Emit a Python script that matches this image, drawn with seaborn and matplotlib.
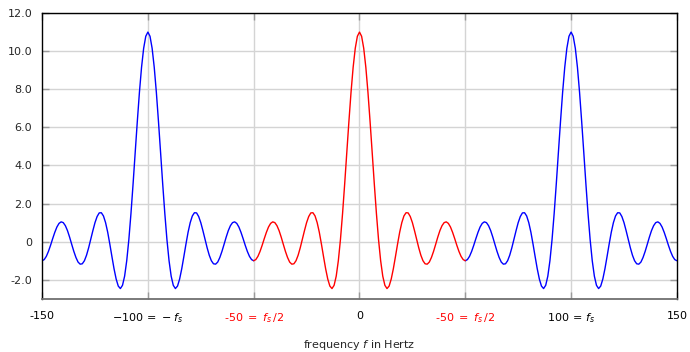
import numpy as np
import pandas as pd
import matplotlib
matplotlib.use("Agg")
import matplotlib.pyplot as plt
import seaborn as sns

# frequency grid (Hz) and amplitude values, 1 Hz apart
freq = list(range(-150, 151))
amplitude = [
    # -150 .. -100
    -1.0, -0.94, -0.77, -0.51, -0.19, 0.16, 0.49, 0.77, 0.96, 1.04, 1.0, 0.84, 0.58, 0.24, -0.14, -0.51, -0.83,
    -1.07, -1.18, -1.16, -1.0, -0.71, -0.32, 0.13, 0.58, 1.0, 1.32, 1.51, 1.52, 1.35, 1.0, 0.5, -0.12, -0.78,
    -1.42, -1.96, -2.33, -2.46, -2.29, -1.81, -1.0, 0.11, 1.48, 3.03, 4.68, 6.31, 7.84, 9.15, 10.15, 10.78, 11.0,
    # -99 .. -51
    10.78, 10.15, 9.15, 7.84, 6.31, 4.68, 3.03, 1.48, 0.11, -1.0, -1.81, -2.29, -2.46, -2.33, -1.96, -1.42, -0.78,
    -0.12, 0.5, 1.0, 1.35, 1.52, 1.51, 1.32, 1.0, 0.58, 0.13, -0.32, -0.71, -1.0, -1.16, -1.18, -1.07, -0.83,
    -0.51, -0.14, 0.24, 0.58, 0.84, 1.0, 1.04, 0.96, 0.77, 0.49, 0.16, -0.19, -0.51, -0.77, -0.94,
    # -50 .. 0
    -1.0, -0.94, -0.77, -0.51, -0.19, 0.16, 0.49, 0.77, 0.96, 1.04, 1.0, 0.84, 0.58, 0.24, -0.14, -0.51, -0.83,
    -1.07, -1.18, -1.16, -1.0, -0.71, -0.32, 0.13, 0.58, 1.0, 1.32, 1.51, 1.52, 1.35, 1.0, 0.5, -0.12, -0.78,
    -1.42, -1.96, -2.33, -2.46, -2.29, -1.81, -1.0, 0.11, 1.48, 3.03, 4.68, 6.31, 7.84, 9.15, 10.15, 10.78, 11.0,
    # 1 .. 50
    10.78, 10.15, 9.15, 7.84, 6.31, 4.68, 3.03, 1.48, 0.11, -1.0, -1.81, -2.29, -2.46, -2.33, -1.96, -1.42, -0.78,
    -0.12, 0.5, 1.0, 1.35, 1.52, 1.51, 1.32, 1.0, 0.58, 0.13, -0.32, -0.71, -1.0, -1.16, -1.18, -1.07, -0.83,
    -0.51, -0.14, 0.24, 0.58, 0.84, 1.0, 1.04, 0.96, 0.77, 0.49, 0.16, -0.19, -0.51, -0.77, -0.94, -1.0,
    # 51 .. 99
    -0.94, -0.77, -0.51, -0.19, 0.16, 0.49, 0.77, 0.96, 1.04, 1.0, 0.84, 0.58, 0.24, -0.14, -0.51, -0.83, -1.07,
    -1.18, -1.16, -1.0, -0.71, -0.32, 0.13, 0.58, 1.0, 1.32, 1.51, 1.52, 1.35, 1.0, 0.5, -0.12, -0.78, -1.42,
    -1.96, -2.33, -2.46, -2.29, -1.81, -1.0, 0.11, 1.48, 3.03, 4.68, 6.31, 7.84, 9.15, 10.15, 10.78,
    # 100 .. 150
    11.0, 10.78, 10.15, 9.15, 7.84, 6.31, 4.68, 3.03, 1.48, 0.11, -1.0, -1.81, -2.29, -2.46, -2.33, -1.96, -1.42,
    -0.78, -0.12, 0.5, 1.0, 1.35, 1.52, 1.51, 1.32, 1.0, 0.58, 0.13, -0.32, -0.71, -1.0, -1.16, -1.18, -1.07,
    -0.83, -0.51, -0.14, 0.24, 0.58, 0.84, 1.0, 1.04, 0.96, 0.77, 0.49, 0.16, -0.19, -0.51, -0.77, -0.94, -1.0,
]

x_ticks = [-150, -100, -50, 0, 50, 100, 150]
x_tick_labels = ["-150", r"$-100\,=\,-f_s$", r"-50 $=$ $f_s\,/2$", "0",
                 r"-50 $=$ $f_s\,/2$", r"$100\,=\,f_s$", "150"]
x_tick_colors = ["black", "black", "red", "black", "red", "black", "black"]
y_ticks = [-2, 0, 2, 4, 6, 8, 10, 12]
y_tick_labels = ["-2.0", "0", "2.0", "4.0", "6.0", "8.0", "10.0", "12.0"]

df = pd.DataFrame({"freq": freq, "amp": amplitude})
left = df[df.freq <= -50]
mid = df[(df.freq >= -50) & (df.freq <= 50)]
right = df[df.freq >= 50]

sns.set_theme(style="white")
plt.rcParams["font.family"] = ["DejaVu Sans"]
plt.rcParams["mathtext.fontset"] = "dejavusans"

fig, ax = plt.subplots(figsize=(6.9, 3.52), dpi=100)
fig.subplots_adjust(left=0.061, right=0.981, top=0.963, bottom=0.151)

# grid
for yv in y_ticks:
    ax.axhline(yv, color="#d4d4d4", lw=1.0, zorder=0)
for xv in [-100, -50, 0, 50, 100]:
    ax.axvline(xv, color="#d4d4d4", lw=1.0, zorder=0)

sns.lineplot(data=left, x="freq", y="amp", color="#0000ff", lw=1.0, ax=ax)
sns.lineplot(data=right, x="freq", y="amp", color="#0000ff", lw=1.0, ax=ax)
sns.lineplot(data=mid, x="freq", y="amp", color="#ff0000", lw=1.0, ax=ax)

ax.set_xlim(-150, 150)
ax.set_ylim(-3, 12)
ax.set_xticks(x_ticks)
ax.set_xticklabels(x_tick_labels, fontsize=8)
for lab, c in zip(ax.get_xticklabels(), x_tick_colors):
    lab.set_color(c)
ax.set_yticks(y_ticks)
ax.set_yticklabels(y_tick_labels, fontsize=8)
ax.tick_params(axis="both", which="both", direction="in", length=5, width=1.0,
               color="#9a9a9a", top=True, right=True, bottom=True, left=True, pad=7)
ax.tick_params(axis="x", pad=9)
for s in ax.spines.values():
    s.set_color("black")
    s.set_linewidth(1.0)
ax.spines["bottom"].set_color("#707070")
ax.spines["bottom"].set_linewidth(1.3)

ax.set_xlabel(r"frequency $f$ in Hertz", fontsize=8, labelpad=9)
ax.set_ylabel("")

fig.savefig("out.png", dpi=100)
